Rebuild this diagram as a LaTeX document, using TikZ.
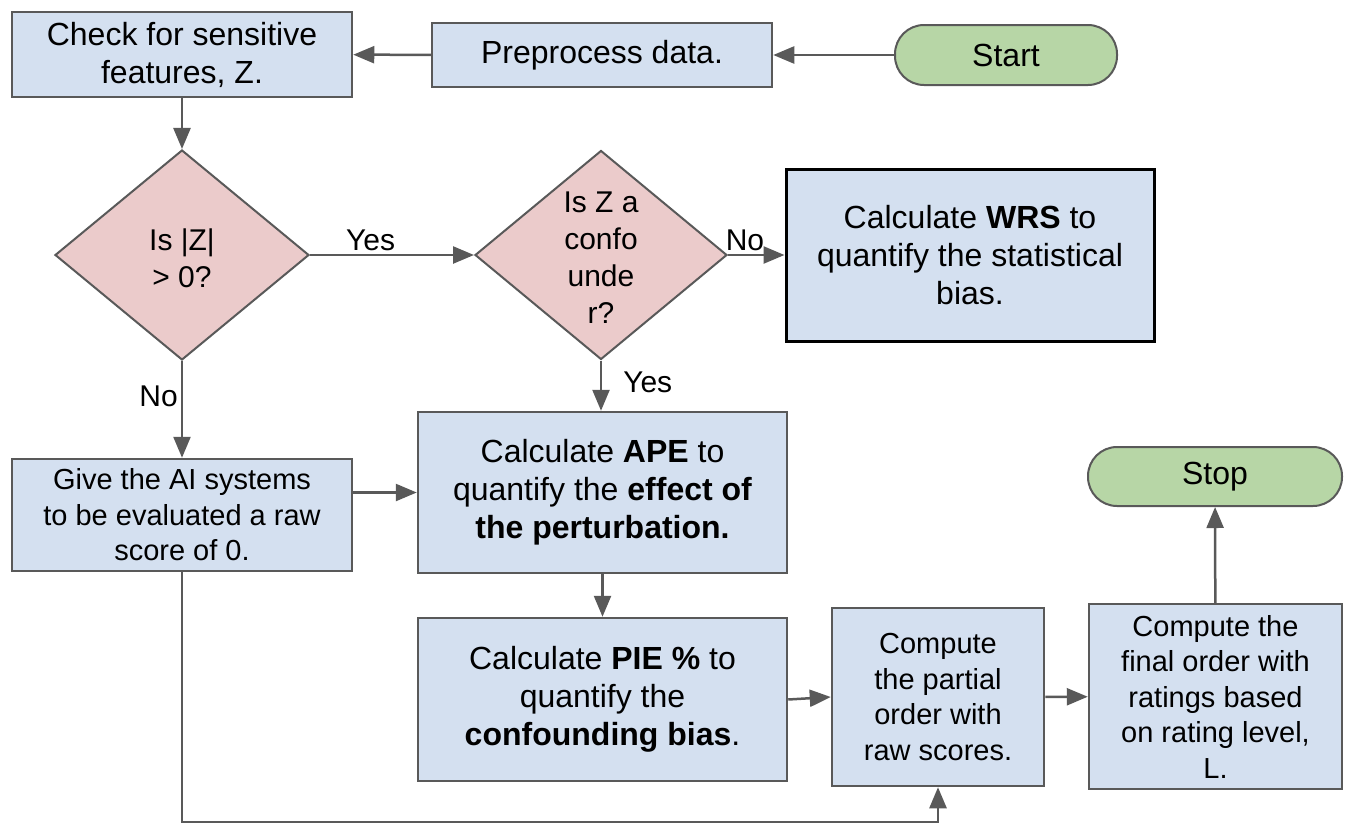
\documentclass[tikz,border=0pt]{standalone}
\usepackage{fontspec}
\setmainfont{Liberation Sans}
\usetikzlibrary{arrows.meta,shapes.geometric}
\definecolor{boxblue}{HTML}{D4E0F0}
\definecolor{edgegray}{HTML}{595959}
\definecolor{decpink}{HTML}{EBCBCB}
\definecolor{termgreen}{HTML}{B7D6A6}
\begin{document}
\begin{tikzpicture}[x=1pt,y=-1pt,
  bigtext/.style={font=\fontsize{32}{38}\selectfont},
  smalltext/.style={font=\fontsize{29}{35.5}\selectfont},
  dectext/.style={font=\fontsize{30}{37}\selectfont, align=center, inner sep=0pt},
  process/.style={draw=edgegray, line width=2.5pt, fill=boxblue, align=center, inner sep=0pt},
  terminal/.style={draw=edgegray, line width=2pt, fill=termgreen, rounded corners=29pt,
    inner sep=0pt, align=center, bigtext},
  decision/.style={diamond, draw=edgegray, line width=2pt, fill=decpink, inner sep=0pt},
  flow/.style={draw=edgegray, line width=2.5pt, -{Triangle[length=21pt,width=17pt]}},
  tag/.style={font=\fontsize{30}{36}\selectfont, inner sep=3pt}
]
\useasboundingbox (0,0) rectangle (1346,822);

% top row
\node[process, bigtext, minimum width=340pt, minimum height=85pt] (check) at (182,54.5)
  {Check for sensitive\\features, Z.};
\node[process, bigtext, minimum width=340pt, minimum height=64pt] (prep) at (602,55)
  {Preprocess data.};
\node[terminal, minimum width=222pt, minimum height=60pt] (start) at (1006,55) {Start};

% decisions
\node[decision, minimum width=254pt, minimum height=210pt] (d1) at (182,255) {};
\node[dectext] (d1text) at (182,258) {Is |Z|\\> 0?};
\node[decision, minimum width=252pt, minimum height=209pt] (d2) at (601,255) {};
\node[dectext] (d2text) at (601,258) {Is Z a\\confo\\unde\\r?};

\node[process, bigtext, draw=black, line width=3pt, minimum width=368pt, minimum height=172pt]
  (wrs) at (970,255) {Calculate \textbf{WRS} to\\quantify the statistical\\bias.};

% middle and bottom rows
\node[process, smalltext, minimum width=340pt, minimum height=112pt] (give) at (182,515)
  {Give the AI systems\\to be evaluated a raw\\score of 0.};
\node[process, bigtext, minimum width=369pt, minimum height=161pt] (ape) at (602.5,492.5)
  {Calculate \textbf{APE} to\\quantify the \textbf{effect of}\\\textbf{the perturbation.}};
\node[process, bigtext, minimum width=369pt, minimum height=163pt] (pie) at (602.5,699.5)
  {Calculate \textbf{PIE \%} to\\quantify the\\\textbf{confounding bias}.};
\node[process, smalltext, minimum width=212pt, minimum height=178pt] (partial) at (938,697)
  {Compute\\the partial\\order with\\raw scores.};
\node[process, smalltext, minimum width=253pt, minimum height=185pt] (final) at (1215.5,696.5)
  {Compute the\\final order with\\ratings based\\on rating level,\\L.};
\node[terminal, minimum width=254pt, minimum height=59pt] (stop) at (1215,476.5) {Stop};

% the return run along the lower edge
\coordinate (floor) at (0,822);

% connectors
\draw[flow] (start) -- (prep);
\draw[flow] (prep) -- (check);
\draw[flow] (check) -- (d1);
\draw[flow] (d1.east) -- (d2.west) node[tag, pos=0.37, anchor=south] {Yes};
\draw[flow] (d2.east) -- (wrs.west) node[tag, pos=0.3, anchor=south] {No};
\draw[flow] (d1.south) -- (give.north) node[tag, pos=0.36, anchor=east] {No};
\draw[flow] (d2.south) -- (d2.south |- ape.north) node[tag, pos=0.43, anchor=west, xshift=18pt] {Yes};
\draw[flow] (give.east |- ape.west) -- (ape.west);
\draw[flow] (ape) -- (pie);
\draw[flow] (pie.east) -- (partial.west);
\draw[flow] (partial) -- (final);
\draw[flow] (final) -- (stop);
\draw[flow] (give.south) -- (give.south |- floor) -| (partial.south);
\end{tikzpicture}
\end{document}
